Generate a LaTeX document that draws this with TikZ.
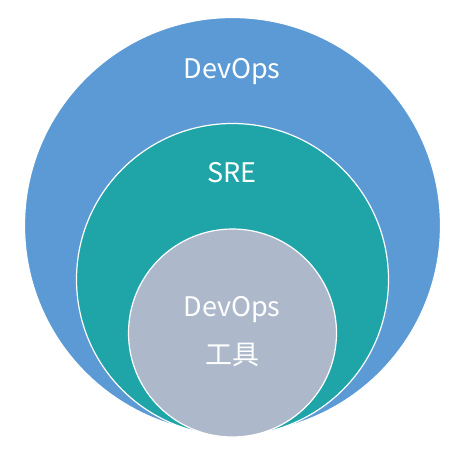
\documentclass[tikz,border=0pt]{standalone}
\usepackage{fontspec}
\setmainfont{Noto Sans CJK SC}
\usetikzlibrary{positioning}

\definecolor{outerblue}{HTML}{5B9AD4}
\definecolor{sreteal}{HTML}{1FA5A8}
\definecolor{toolgray}{HTML}{ADB8CA}

\begin{document}
\begin{tikzpicture}[x=1pt,y=-1pt,
    ring/.style={circle,draw=white,line width=1.2pt,inner sep=0pt},
    label/.style={text=white,font=\fontsize{27}{32}\selectfont,inner sep=0pt}]
            \useasboundingbox (0,0) rectangle (462,455);
            \node [ring,fill=outerblue,minimum size=416pt] (devops) at (232.5,225.5) {};
            \node [ring,fill=sreteal,minimum size=312pt] (sre) at (232.5,279.5) {};
            \node [ring,fill=toolgray,minimum size=208pt] (tools) at (232.5,333) {};
            \node [label] (devopstext) at (232,72) {DevOps};
            \node [label] (sretext) at (232,173) {SRE};
            \node [label] (toolstext) at (232,310) {DevOps};
            \node [label,below=20pt of toolstext] (toolscjk) {工具};
            \end{tikzpicture}
\end{document}
